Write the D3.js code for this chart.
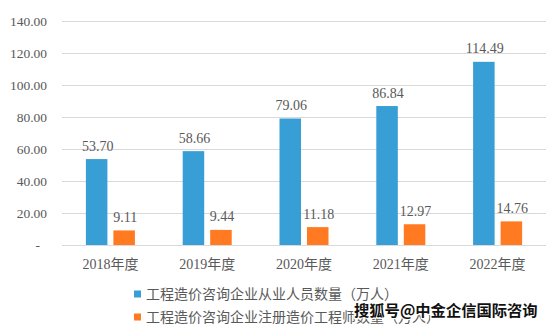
<!DOCTYPE html>
<html>
<head>
<meta charset="utf-8">
<script src="https://cdn.jsdelivr.net/npm/d3@7"></script>
<style>
  html, body { margin: 0; padding: 0; background: #fff; }
  svg { display: block; }
</style>
</head>
<body>
<svg id="chart" width="552" height="327"></svg>
<script>
// Years on the category axis
const categories = ["2018年度", "2019年度", "2020年度", "2021年度", "2022年度"];
// Series names shown in the legend
const seriesNames = ["工程造价咨询企业从业人员数量（万人）", "工程造价咨询企业注册造价工程师数量（万人）"];
// Employees of cost-consulting firms (10k persons)
const employees = [53.70, 58.66, 79.06, 86.84, 114.49];
// Registered cost engineers (10k persons)
const engineers = [9.11, 9.44, 11.18, 12.97, 14.76];
// Value-axis ticks
const yTicks = [0, 20, 40, 60, 80, 100, 120, 140];

const colors = ["#379ED6", "#FF7A21"];
const textColor = "#595959";
const serif = "'Liberation Serif', 'Times New Roman', 'Noto Sans CJK SC', serif";

const svg = d3.select("#chart");
const plot = { left: 62, right: 546, top: 21, bottom: 245 };

const x0 = d3.scaleBand().domain(categories).range([plot.left, plot.right]).paddingInner(0).paddingOuter(0);
const x1 = d3.scaleBand().domain([0, 1]).range([-24.5, 24.5]).paddingInner(0.218).paddingOuter(0);
const y = d3.scaleLinear().domain([0, 140]).range([plot.bottom, plot.top]);

// Horizontal gridlines
svg.append("g")
  .selectAll("line")
  .data(yTicks)
  .join("line")
  .attr("x1", plot.left).attr("x2", plot.right)
  .attr("y1", d => Math.round(y(d)) + 0.5).attr("y2", d => Math.round(y(d)) + 0.5)
  .attr("stroke", "#d9d9d9").attr("stroke-width", 1);

// Value-axis labels (zero is shown as a dash)
svg.append("g")
  .selectAll("text")
  .data(yTicks)
  .join("text")
  .attr("x", d => d === 0 ? 40 : 47)
  .attr("y", d => y(d) + 4.5)
  .attr("text-anchor", "end")
  .attr("font-family", serif).attr("font-size", 13.5)
  .attr("fill", textColor)
  .text(d => d === 0 ? "-" : d3.format(".2f")(d));

// Bars and value labels
const series = [employees, engineers];
const groups = svg.append("g")
  .selectAll("g")
  .data(categories)
  .join("g")
  .attr("transform", d => `translate(${x0(d) + x0.bandwidth() / 2},0)`);

groups.selectAll("rect")
  .data((c, i) => series.map((s, k) => ({ k, v: s[i] })))
  .join("rect")
  .attr("x", d => x1(d.k))
  .attr("width", x1.bandwidth())
  .attr("y", d => y(d.v))
  .attr("height", d => y(0) - y(d.v))
  .attr("fill", d => colors[d.k]);

groups.selectAll("text")
  .data((c, i) => series.map((s, k) => ({ k, v: s[i] })))
  .join("text")
  .attr("x", d => x1(d.k) + x1.bandwidth() / 2 + 1)
  .attr("y", d => y(d.v) - 8.5)
  .attr("text-anchor", "middle")
  .attr("font-family", serif).attr("font-size", 14)
  .attr("fill", textColor)
  .text(d => d3.format(".2f")(d.v));

// Category labels
svg.append("g")
  .selectAll("text")
  .data(categories)
  .join("text")
  .attr("x", d => x0(d) + x0.bandwidth() / 2)
  .attr("y", 269)
  .attr("text-anchor", "middle")
  .attr("font-family", serif).attr("font-size", 14)
  .attr("fill", textColor)
  .text(d => d);

// Legend
const legend = svg.append("g")
  .selectAll("g")
  .data(seriesNames)
  .join("g")
  .attr("transform", (d, i) => `translate(134,${294 + i * 23})`);
legend.append("rect")
  .attr("x", 0).attr("y", -3.5).attr("width", 7).attr("height", 7)
  .attr("fill", (d, i) => colors[i]);
legend.append("text")
  .attr("x", 12).attr("y", 5)
  .attr("font-family", serif).attr("font-size", 14)
  .attr("fill", textColor)
  .text(d => d);

// Publisher credit
svg.append("text")
  .attr("x", 354).attr("y", 316)
  .attr("font-family", "'Noto Sans CJK SC', sans-serif")
  .attr("font-weight", "bold").attr("font-size", 15.3)
  .attr("fill", "#111")
  .attr("stroke", "#fff").attr("stroke-width", 2.5)
  .attr("paint-order", "stroke")
  .text("搜狐号@中金企信国际咨询");
</script>
</body>
</html>
